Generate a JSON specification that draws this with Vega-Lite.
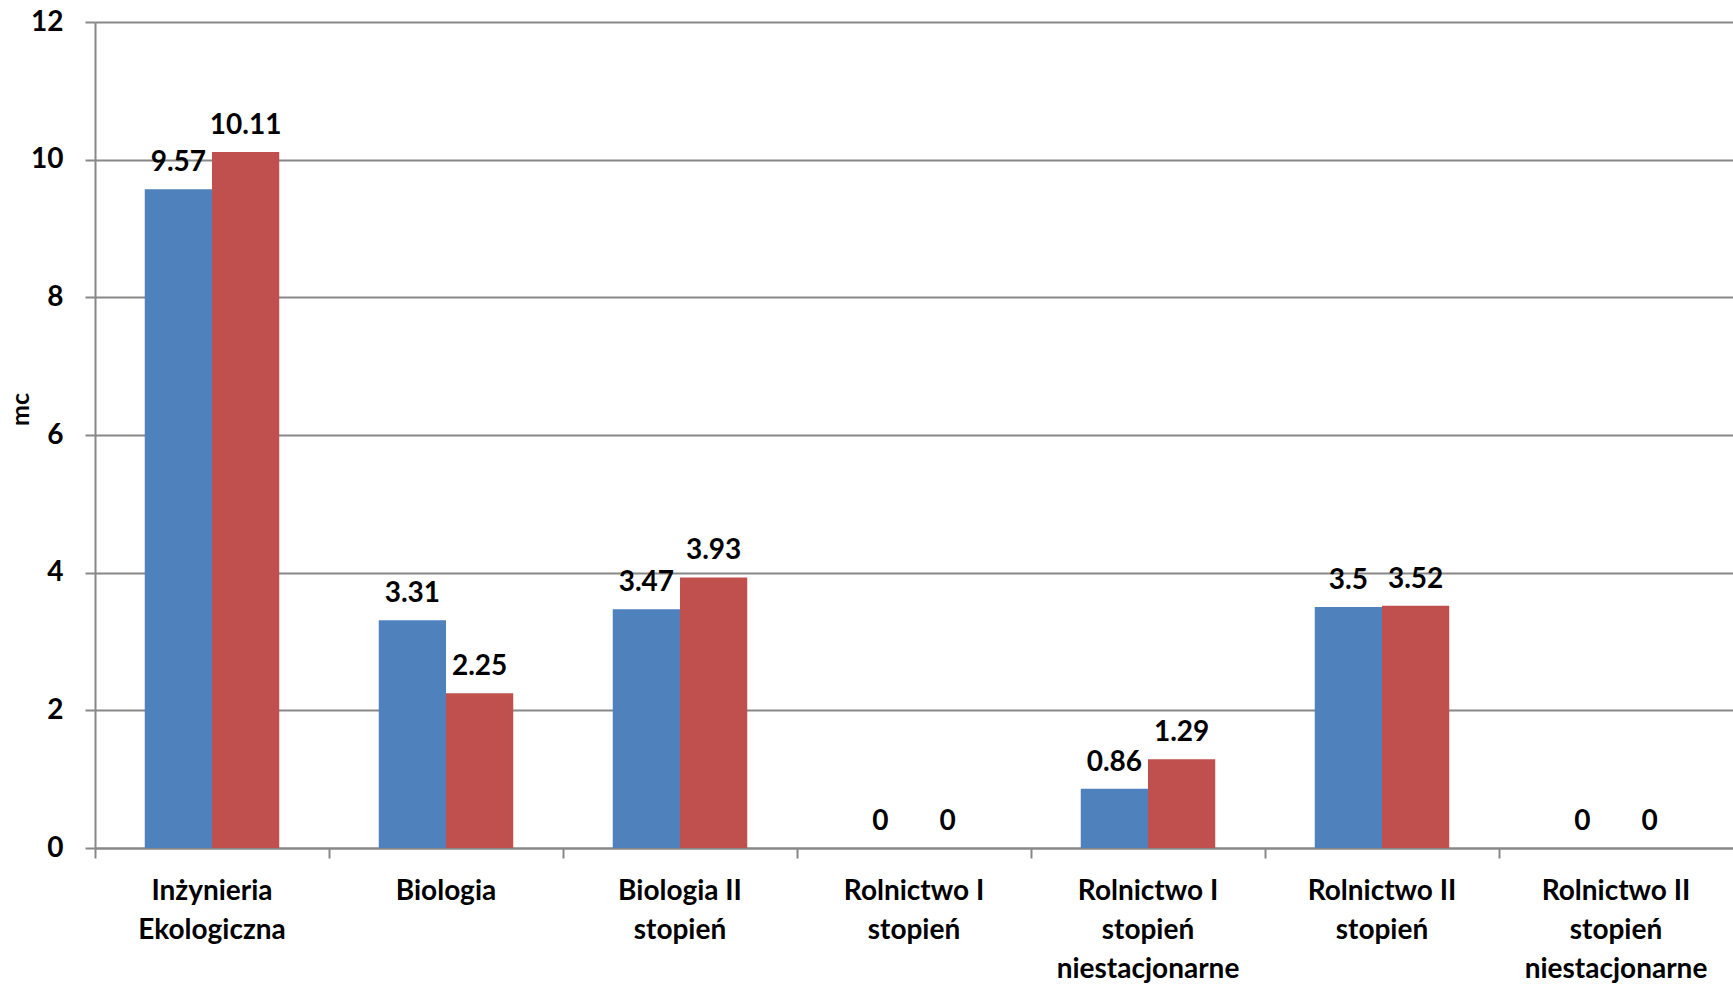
{
  "$schema": "https://vega.github.io/schema/vega-lite/v6.json",
  "width": 1638,
  "height": 826,
  "autosize": {"type": "none"},
  "padding": {"left": 95, "top": 22, "right": 0, "bottom": 136},
  "background": "white",
  "config": {
    "view": {"stroke": null},
    "font": "Lato",
    "axis": {"labelFont": "Lato", "titleFont": "Lato"}
  },
  "data": {
    "values": [
      {"kierunek": "Inżynieria Ekologiczna", "seria": "Seria 1", "mc": 9.57},
      {"kierunek": "Inżynieria Ekologiczna", "seria": "Seria 2", "mc": 10.11},
      {"kierunek": "Biologia", "seria": "Seria 1", "mc": 3.31},
      {"kierunek": "Biologia", "seria": "Seria 2", "mc": 2.25},
      {"kierunek": "Biologia II stopień", "seria": "Seria 1", "mc": 3.47},
      {"kierunek": "Biologia II stopień", "seria": "Seria 2", "mc": 3.93},
      {"kierunek": "Rolnictwo I stopień", "seria": "Seria 1", "mc": 0},
      {"kierunek": "Rolnictwo I stopień", "seria": "Seria 2", "mc": 0},
      {"kierunek": "Rolnictwo I stopień niestacjonarne", "seria": "Seria 1", "mc": 0.86},
      {"kierunek": "Rolnictwo I stopień niestacjonarne", "seria": "Seria 2", "mc": 1.29},
      {"kierunek": "Rolnictwo II stopień", "seria": "Seria 1", "mc": 3.5},
      {"kierunek": "Rolnictwo II stopień", "seria": "Seria 2", "mc": 3.52},
      {"kierunek": "Rolnictwo II stopień niestacjonarne", "seria": "Seria 1", "mc": 0},
      {"kierunek": "Rolnictwo II stopień niestacjonarne", "seria": "Seria 2", "mc": 0}
    ]
  },
  "encoding": {
    "x": {
      "field": "kierunek",
      "type": "nominal",
      "sort": null,
      "scale": {"paddingInner": 0, "paddingOuter": 0},
      "axis": {
        "title": null,
        "labelAngle": 0,
        "bandPosition": 0,
        "domainColor": "#888888",
        "domainWidth": 2,
        "tickColor": "#888888",
        "tickWidth": 2,
        "tickSize": 10,
        "labelFont": "Lato",
        "labelFontSize": 28,
        "labelFontWeight": "bold",
        "labelColor": "black",
        "labelPadding": 19,
        "labelLineHeight": 39,
        "labelBaseline": "top",
        "labelLimit": 0,
        "labelExpr": "split(replace(datum.label, / (Ekologiczna|stopień|niestacjonarne)/g, '|$1'), '|')",
        "grid": false
      }
    },
    "xOffset": {
      "field": "seria",
      "type": "nominal",
      "scale": {"paddingInner": 0, "paddingOuter": 0.74}
    },
    "y": {
      "field": "mc",
      "type": "quantitative",
      "scale": {"domain": [0, 12], "nice": false},
      "axis": {
        "title": "mc",
        "titleFontSize": 25,
        "titleFontWeight": "bold",
        "titleColor": "black",
        "titleX": -75,
        "titleY": 387,
        "titleAngle": -90,
        "titleBaseline": "middle",
        "titleAlign": "center",
        "values": [0, 2, 4, 6, 8, 10, 12],
        "domainColor": "#888888",
        "domainWidth": 2,
        "tickColor": "#888888",
        "tickWidth": 2,
        "tickSize": 10,
        "labelFontSize": 28,
        "labelFontWeight": "bold",
        "labelColor": "black",
        "labelPadding": 22,
        "grid": true,
        "gridColor": "#888888",
        "gridWidth": 2
      }
    }
  },
  "layer": [
    {
      "mark": {"type": "bar"},
      "encoding": {
        "color": {
          "field": "seria",
          "type": "nominal",
          "scale": {"domain": ["Seria 1", "Seria 2"], "range": ["#4F81BD", "#C0504D"]},
          "legend": null
        }
      }
    },
    {
      "mark": {
        "type": "text",
        "baseline": "alphabetic",
        "align": "center",
        "dy": -18,
        "font": "Lato",
        "fontSize": 28,
        "fontWeight": "bold",
        "color": "black"
      },
      "encoding": {
        "text": {"field": "mc", "type": "quantitative"}
      }
    }
  ]
}
